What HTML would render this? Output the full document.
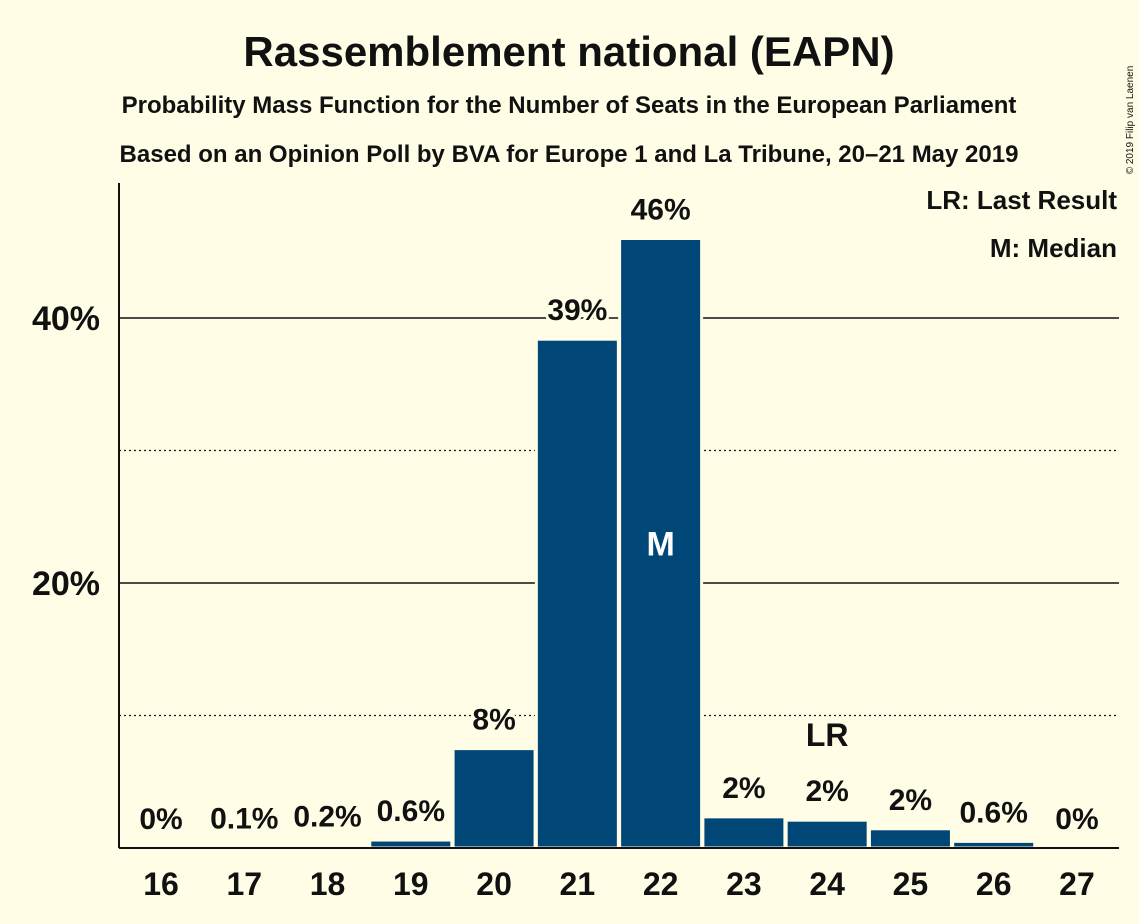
<!DOCTYPE html>
<html><head><meta charset="utf-8"><style>
body{margin:0;background:#fffde5;}
svg{display:block;font-family:"Liberation Sans",sans-serif;}
</style></head><body>
<svg id="chart" width="1139" height="924">
<rect width="1139" height="924" fill="#fffde5"/>
<text x="569" y="66" text-anchor="middle" font-size="42" font-weight="bold" fill="#111">Rassemblement national (EAPN)</text>
<text x="569" y="113" text-anchor="middle" font-size="24" font-weight="bold" fill="#111">Probability Mass Function for the Number of Seats in the European Parliament</text>
<text x="569" y="162" text-anchor="middle" font-size="24" font-weight="bold" fill="#111">Based on an Opinion Poll by BVA for Europe 1 and La Tribune, 20–21 May 2019</text>
<text x="1133" y="120" font-size="10" fill="#111" transform="rotate(-90 1133 120)" text-anchor="middle">© 2019 Filip van Laenen</text>
<text x="1117" y="209" text-anchor="end" font-size="26" font-weight="bold" fill="#111">LR: Last Result</text>
<text x="1117" y="257" text-anchor="end" font-size="26" font-weight="bold" fill="#111">M: Median</text>
<g id="grid"></g><g id="bars"></g>
<line x1="119" y1="183" x2="119" y2="848" stroke="#111" stroke-width="2"/>
<line x1="119" y1="848" x2="1119" y2="848" stroke="#111" stroke-width="2"/>
</svg>
<script>
const seats=[16,17,18,19,20,21,22,23,24,25,26,27];
const probs=[0,0.05,0.2,0.6,7.5,38.4,46.0,2.35,2.1,1.45,0.5,0];
const labels=["0%","0.1%","0.2%","0.6%","8%","39%","46%","2%","2%","2%","0.6%","0%"];
const yTicks=[10,20,30,40];
const yTickLabels=["","20%","","40%"];
const medianSeat=22, lastResultSeat=24;
const NS="http://www.w3.org/2000/svg";
const y=v=>848-v*13.25;
const x=s=>161+(s-16)*83.27;
const grid=document.getElementById('grid'),bars=document.getElementById('bars');
function mk(tag,attrs,parent){const e=document.createElementNS(NS,tag);for(const k in attrs)e.setAttribute(k,attrs[k]);parent.appendChild(e);return e;}
yTicks.forEach((t,i)=>{
 const major=yTickLabels[i]!=="";
 const l=mk('line',{x1:119,x2:1119,y1:y(t),y2:y(t),stroke:'#111','stroke-width':major?1.5:1.2,'stroke-dasharray':major?'':'2,3'},grid);
 
 
 if(major){const tx=mk('text',{x:100,y:y(t)+12,'text-anchor':'end','font-size':34,'font-weight':'bold',fill:'#111'},grid);tx.textContent=yTickLabels[i];
 
 }
});
seats.forEach((s,i)=>{
 const p=probs[i];
 if(p>0){const r=mk('rect',{x:x(s)-41,y:y(p),width:82,height:848-y(p),fill:'#004677',stroke:'#fffde5','stroke-width':3},bars);
 
 }
 const t=mk('text',{x:x(s),y:y(p)-19,'text-anchor':'middle','font-size':30,'font-weight':'bold',fill:'#111',stroke:'#fffde5','stroke-width':6,'paint-order':'stroke'},bars);
 t.textContent=labels[i];
 
 
 const xl=mk('text',{x:x(s),y:895,'text-anchor':'middle','font-size':32,'font-weight':'bold',fill:'#111'},bars);
 xl.textContent=s;
 
 
 if(s===medianSeat){const m=mk('text',{x:x(s),y:y(p/2)+12,'text-anchor':'middle','font-size':34,'font-weight':'bold',fill:'#fff'},bars);m.textContent='M';
 
 }
 if(s===lastResultSeat){const m=mk('text',{x:x(s),y:y(p)-74,'text-anchor':'middle','font-size':32,'font-weight':'bold',fill:'#111'},bars);m.textContent='LR';
 
 }
});
</script>
</body></html>
